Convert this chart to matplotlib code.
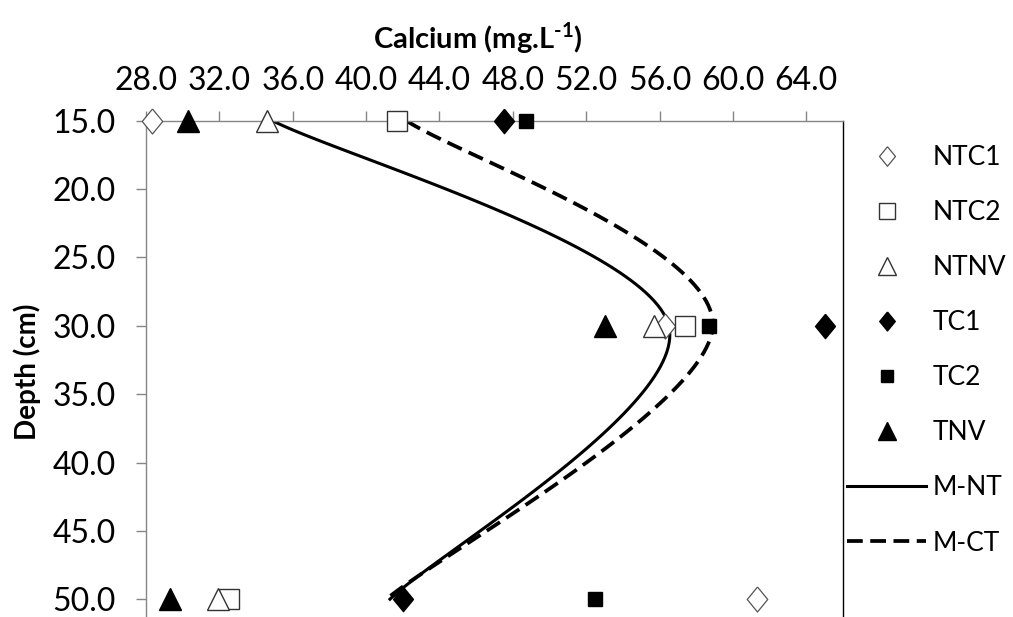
import matplotlib
matplotlib.use("Agg")
import matplotlib.pyplot as plt
import numpy as np

plt.rcParams['font.family'] = ['Lato', 'DejaVu Sans']
plt.rcParams['mathtext.fontset'] = 'custom'
plt.rcParams['mathtext.rm'] = 'Lato:bold'

# Depths sampled (cm) and calcium concentration per treatment (mg/L)
depth = [15.0, 30.0, 50.0]

ntc1 = [28.3, 56.3, 61.3]
ntc2 = [41.7, 57.4, 32.5]
ntnv = [34.6, 55.7, 31.9]
tc1 = [47.5, 65.0, 42.0]
tc2 = [48.7, 58.7, 52.5]
tnv = [30.3, 53.0, 29.3]

# Mean profiles for no-till and conventional tillage
m_nt = [34.9, 56.5, 41.3]
m_ct = [42.2, 58.9, 41.1]

x_ticks = [28.0, 32.0, 36.0, 40.0, 44.0, 48.0, 52.0, 56.0, 60.0, 64.0]
y_ticks = [15.0, 20.0, 25.0, 30.0, 35.0, 40.0, 45.0, 50.0]

# diamond a bit narrower than it is tall
diamond = [(0, 1), (0.82, 0), (0, -1), (-0.82, 0), (0, 1)]


def smooth(xs, ys, n=60):
    # Bezier smoothing through the points, spreadsheet style
    pts = np.column_stack([xs, ys]).astype(float)
    ext = np.vstack([pts[0], pts, pts[-1]])
    out = []
    t = np.linspace(0, 1, n)[:, None]
    for i in range(len(pts) - 1):
        p0, p1 = ext[i + 1], ext[i + 2]
        c1 = p0 + (ext[i + 2] - ext[i]) / 6.0
        c2 = p1 - (ext[i + 3] - ext[i + 1]) / 6.0
        seg = ((1 - t) ** 3) * p0 + 3 * ((1 - t) ** 2) * t * c1 \
            + 3 * (1 - t) * t ** 2 * c2 + t ** 3 * p1
        out.append(seg if i == 0 else seg[1:])
    out = np.vstack(out)
    return out[:, 0], out[:, 1]


fig = plt.figure(figsize=(10.13, 6.17), dpi=100)
ax = fig.add_axes([146 / 1013, 0.0, (843 - 146) / 1013, 1 - 120.7 / 617])

grey = '#868686'

# Fitted mean curves
sx, sy = smooth(m_nt, depth)
ax.plot(sx, sy, color='black', lw=2.2, label='M-NT', zorder=2)
sx, sy = smooth(m_ct, depth)
ax.plot(sx, sy, color='black', lw=2.7, dashes=(4.2, 2.0), label='M-CT', zorder=2)

# Measured points
pt = dict(ls='none', clip_on=False)
ax.plot(ntc1, depth, marker=diamond, ms=18, mfc='white', mec='#555555',
        mew=0.9, label='NTC1', zorder=3, **pt)
ax.plot(ntc2, depth, marker='s', ms=14.5, mfc='white', mec='#333333',
        mew=1.0, label='NTC2', zorder=3, **pt)
ax.plot(ntnv, depth, marker='^', ms=16.5, mfc='white', mec='#333333',
        mew=1.0, label='NTNV', zorder=3, **pt)
ax.plot(tc1, depth, marker=diamond, ms=17.5, mfc='black', mec='black',
        label='TC1', zorder=4, **pt)
ax.plot(tc2, depth, marker='s', ms=10.5, mfc='black', mec='black',
        label='TC2', zorder=4, **pt)
ax.plot(tnv, depth, marker='^', ms=16.5, mfc='black', mec='black',
        label='TNV', zorder=4, **pt)

ax.set_xlim(28, 66)
ax.set_ylim(51.3, 15)
ax.set_xticks(x_ticks)
ax.set_yticks(y_ticks)
ax.set_xticklabels([f'{v:.1f}' for v in x_ticks])
ax.set_yticklabels([f'{v:.1f}' for v in y_ticks])
ax.xaxis.tick_top()
ax.tick_params(axis='x', direction='out', length=7, width=1, color=grey,
               pad=11, labelsize=23)
ax.tick_params(axis='y', direction='out', length=7, width=1, color=grey,
               pad=15, labelsize=23)

ax.spines['bottom'].set_visible(False)
ax.spines['top'].set_color(grey)
ax.spines['left'].set_color(grey)
ax.spines['right'].set_color('black')
for s in ax.spines.values():
    s.set_linewidth(1.0)

fig.text(478 / 1013, 1 - 38 / 617, r'Calcium (mg.L$^{\text{-1}}$)',
         ha='center', va='center', fontsize=21, fontweight='bold')
fig.text(27 / 1013, 1 - 372 / 617, 'Depth (cm)', rotation=90,
         ha='center', va='center', fontsize=20, fontweight='bold')

handles, labels = ax.get_legend_handles_labels()
order = ['NTC1', 'NTC2', 'NTNV', 'TC1', 'TC2', 'TNV', 'M-NT', 'M-CT']
h = [handles[labels.index(k)] for k in order]
fig.legend(h, order, loc='upper left', bbox_to_anchor=(847 / 1013, 1 - 145 / 617),
           frameon=False, fontsize=19, handlelength=3.0, handletextpad=0.25,
           labelspacing=1.14, markerscale=0.78, borderpad=0, borderaxespad=0)

fig.savefig('out.png', dpi=100)
